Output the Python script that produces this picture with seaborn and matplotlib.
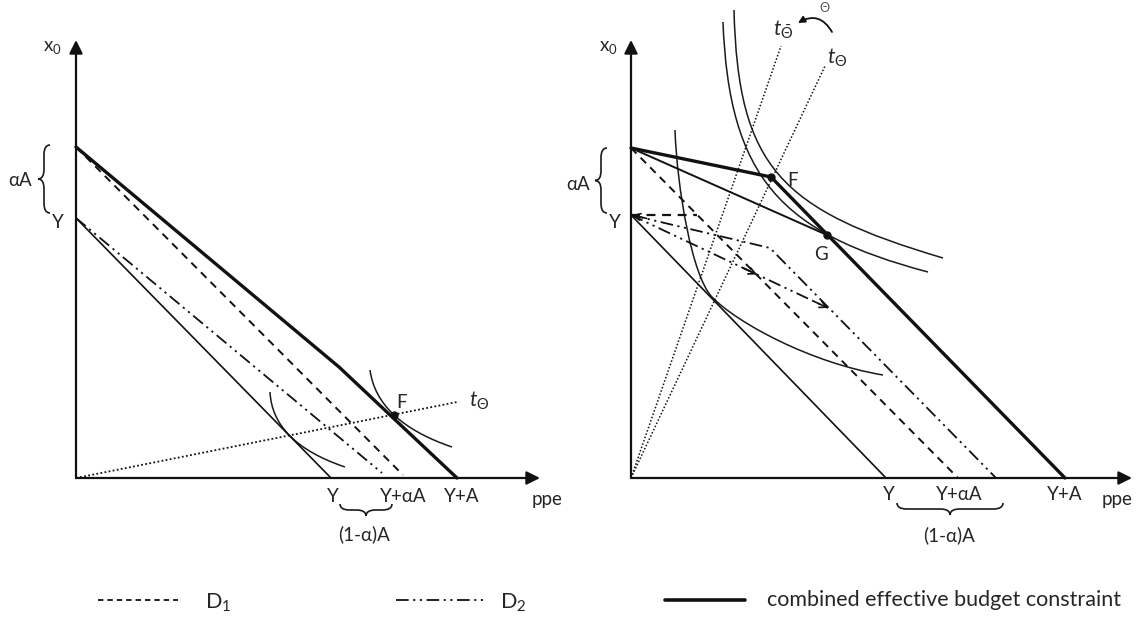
import numpy as np
import pandas as pd
import matplotlib
matplotlib.use("Agg")
import matplotlib.pyplot as plt
import seaborn as sns
from matplotlib.path import Path
from matplotlib.patches import PathPatch

sns.set_theme(style="white")
plt.rcParams['font.family'] = ['Lato', 'DejaVu Sans']
plt.rcParams['mathtext.fontset'] = 'custom'
plt.rcParams['mathtext.rm'] = 'Lato'
plt.rcParams['mathtext.it'] = 'Lato:italic'
plt.rcParams['mathtext.default'] = 'regular'

# all values read off the picture, in pixels measured from each panel's origin
# ---- left panel
L_axis_len = (464, 438)
L_bold_x, L_bold_y = [0, 263, 381], [331, 111, 0]
L_D1_x, L_D1_y = [0, 327], [331, 3]
L_D2_x, L_D2_y = [0, 306], [260, 5]
L_base_x, L_base_y = [0, 255], [260, 0]
L_ray_x, L_ray_y = [0, 381], [0, 76]
L_F = (318, 63)
L_ic = [[(294, 108), (298.7, 73.7), (326, 48), (376, 31)],
        [(194, 86), (195.7, 52.3), (220.7, 27.3), (269, 11)]]
L_xlabels = ["Y", "Y+αA", "Y+A"]
L_xlabel_pos = [257, 327, 386]

# ---- right panel
R_axis_len = (501, 438)
R_bold_x, R_bold_y = [0, 140, 434], [330, 301, 0]
R_thin_x, R_thin_y = [0, 196], [330, 243]
R_D1_x, R_D1_y = [0, 327], [330, 0]
R_shift_x, R_shift_y = [0, 66], [263, 263]
R_base_x, R_base_y = [0, 255], [263, 0]
R_D2_x, R_D2_y = [0, 139, 365], [263, 230, 0]
R_move_x, R_move_y = [0, 197], [263, 170]
R_ray1_x, R_ray1_y = [0, 150], [0, 432]
R_ray2_x, R_ray2_y = [0, 194], [0, 412]
R_F, R_G = (140, 301), (196, 243)
R_ic = [[(92, 456), (98, 300), (150, 245), (297, 206)],
        [(103, 468), (107, 310), (150, 268), (312, 220)],
        [(44, 348), (46, 290), (61, 201.6), (81, 181),
         (106, 155), (180, 115), (252, 103)]]
R_xlabels = ["Y", "Y+αA", "Y+A"]
R_xlabel_pos = [258, 328, 434]

TXT = '#262626'
FS = 13.5


def curve(ax, pts, lw=1.1):
    codes = [Path.MOVETO] + [Path.CURVE4] * (len(pts) - 1)
    ax.add_patch(PathPatch(Path(pts, codes), fill=False, lw=lw, ec='#1a1a1a'))


def brace(ax, p0, p1, w, normal, lw=1.2):
    p0, p1, n = np.array(p0, float), np.array(p1, float), np.array(normal, float)
    L = np.linalg.norm(p1 - p0)
    t = (p1 - p0) / L
    r = min(w * 0.8, L / 4)
    loc = [(0, 0), (0, w / 2), (r, w / 2), (L / 2 - r, w / 2), (L / 2, w / 2), (L / 2, w),
           (L / 2, w / 2), (L / 2 + r, w / 2), (L - r, w / 2), (L, w / 2), (L, 0)]
    codes = [Path.MOVETO, Path.CURVE3, Path.CURVE3, Path.LINETO, Path.CURVE3, Path.CURVE3,
             Path.CURVE3, Path.CURVE3, Path.LINETO, Path.CURVE3, Path.CURVE3]
    pts = [p0 + u * t + v * n for u, v in loc]
    ax.add_patch(PathPatch(Path(pts, codes), fill=False, lw=lw, ec='#1a1a1a'))


def line(ax, xs, ys, lw, ls='-'):
    sns.lineplot(x=xs, y=ys, ax=ax, color='#111111', linewidth=lw, linestyle=ls,
                 sort=False, estimator=None, legend=False)


def arrowhead(ax, tip, frm, style='->', ms=12, lw=1.2):
    ax.annotate('', xy=tip, xytext=frm,
                arrowprops=dict(arrowstyle=style, color='#111111', lw=lw,
                                mutation_scale=ms, shrinkA=0, shrinkB=0))


def axes_frame(ax, length):
    arrowhead(ax, (length[0], 0), (0, 0), '-|>', 20, 1.6)
    arrowhead(ax, (0, length[1]), (0, 0), '-|>', 20, 1.6)


DASH = (0, (4, 3))
DDOT = (0, (7, 2.5, 1.2, 2.5, 1.2, 2.5))
DOT = (0, (1, 1.3))

fig = plt.figure(figsize=(11.4, 6.21), dpi=100)
axL = fig.add_axes([0, 0, 0.5, 1])
axR = fig.add_axes([0.5, 0, 0.5, 1])
axL.set(xlim=(-76, 494), ylim=(-143, 478))
axR.set(xlim=(-61, 509), ylim=(-143, 478))
for ax in (axL, axR):
    ax.set_axis_off()

# ---- left panel
ax = axL
line(ax, L_ray_x, L_ray_y, 1.3, DOT)
line(ax, L_base_x, L_base_y, 1.2)
line(ax, L_D2_x, L_D2_y, 1.3, DDOT)
line(ax, L_D1_x, L_D1_y, 1.4, DASH)
line(ax, L_bold_x, L_bold_y, 2.4)
for c in L_ic:
    curve(ax, c)
ax.plot(*L_F, 'o', color='#111111', ms=5)
axes_frame(ax, L_axis_len)
ax.text(-24, 431, 'x$_0$', ha='center', va='center', fontsize=FS, color=TXT)
ax.text(-56, 297, 'αA', ha='center', va='center', fontsize=FS, color=TXT)
ax.text(-18, 255, 'Y', ha='center', va='center', fontsize=FS, color=TXT)
brace(ax, (-26, 265), (-26, 333), 12, (-1, 0))
for lab, xp in zip(L_xlabels, L_xlabel_pos):
    ax.text(xp, -19, lab, ha='center', va='center', fontsize=FS, color=TXT)
ax.text(471, -22, 'ppe', ha='center', va='center', fontsize=FS, color=TXT)
brace(ax, (264, -26), (316, -26), 12, (0, -1))
ax.text(288, -56, '(1-α)A', ha='center', va='center', fontsize=FS, color=TXT)
ax.text(326, 75, 'F', ha='center', va='center', fontsize=FS, color=TXT)
ax.text(393, 77, r'$\mathit{t}_{\Theta}$', ha='left', va='center', fontsize=15, color=TXT)

# ---- right panel
ax = axR
line(ax, R_ray1_x, R_ray1_y, 1.1, DOT)
line(ax, R_ray2_x, R_ray2_y, 1.1, DOT)
line(ax, R_base_x, R_base_y, 1.2)
line(ax, R_D2_x, R_D2_y, 1.3, DDOT)
line(ax, R_move_x, R_move_y, 1.3, DDOT)
line(ax, R_D1_x, R_D1_y, 1.4, DASH)
line(ax, R_shift_x, R_shift_y, 1.6, DASH)
line(ax, R_thin_x, R_thin_y, 1.4)
line(ax, R_bold_x, R_bold_y, 2.4)
for c in R_ic:
    curve(ax, c)
ax.plot(*R_F, 'o', color='#111111', ms=5)
ax.plot(*R_G, 'o', color='#111111', ms=5)
# movement arrows on the D2 paths
arrowhead(ax, (126, 203.5), (112, 210))
arrowhead(ax, (197, 170), (183, 176.6))
arrowhead(ax, (1, 263), (15.6, 259.6))
axes_frame(ax, R_axis_len)
ax.text(-23, 431, 'x$_0$', ha='center', va='center', fontsize=FS, color=TXT)
ax.text(-53, 294, 'αA', ha='center', va='center', fontsize=FS, color=TXT)
ax.text(-16, 255, 'Y', ha='center', va='center', fontsize=FS, color=TXT)
brace(ax, (-24, 265), (-24, 330), 12, (-1, 0))
for lab, xp in zip(R_xlabels, R_xlabel_pos):
    ax.text(xp, -17, lab, ha='center', va='center', fontsize=FS, color=TXT)
ax.text(486, -22, 'ppe', ha='center', va='center', fontsize=FS, color=TXT)
brace(ax, (266, -25), (372, -25), 12, (0, -1))
ax.text(318, -57, '(1-α)A', ha='center', va='center', fontsize=FS, color=TXT)
ax.text(162, 298, 'F', ha='center', va='center', fontsize=FS, color=TXT)
ax.text(190, 224, 'G', ha='center', va='center', fontsize=FS, color=TXT)
ax.text(152, 448, r'$\mathit{t}_{\bar{\Theta}}$', ha='center', va='center', fontsize=15, color=TXT)
ax.text(206, 420, r'$\mathit{t}_{\Theta}$', ha='center', va='center', fontsize=15, color=TXT)
ax.text(194, 471, r'$\bar{\Theta}$', ha='center', va='center', fontsize=9, color='#555555')
ax.annotate('', xy=(167, 455), xytext=(201, 446),
            arrowprops=dict(arrowstyle='-|>', color='#111111', lw=1.3, mutation_scale=10,
                            connectionstyle='arc3,rad=0.5', shrinkA=0, shrinkB=0))

# ---- legend row
leg = fig.add_axes([0, 0, 1, 1])
leg.set(xlim=(0, 1140), ylim=(621, 0))
leg.set_axis_off()
leg.patch.set_alpha(0)
line(leg, [98, 178], [600, 600], 1.3, (0, (3, 2.2)))
leg.text(205, 603, 'D$_1$', ha='left', va='center', fontsize=15.5, color=TXT)
line(leg, [396, 483], [600, 600], 1.3, DDOT)
leg.text(500, 603, 'D$_2$', ha='left', va='center', fontsize=15.5, color=TXT)
line(leg, [665, 745], [600, 600], 2.6)
leg.text(767, 600, 'combined effective budget constraint', ha='left', va='center',
         fontsize=15.5, color=TXT)

fig.savefig('out.png', dpi=100)
